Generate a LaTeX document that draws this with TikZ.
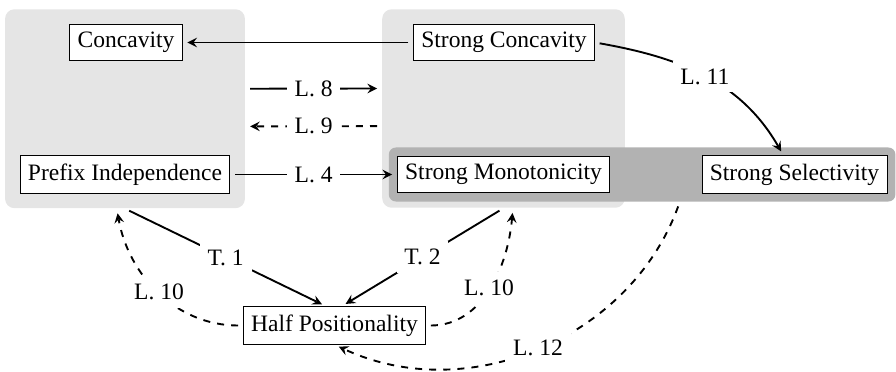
\documentclass[tikz,border=0pt]{standalone}
\usepackage{fontspec}
\setmainfont{Liberation Serif}
\usetikzlibrary{fit, backgrounds}

\begin{document}
\begin{tikzpicture}[x=0.425pt, y=-0.425pt, >=stealth,
  box/.style={draw, fill=white},
  grp/.style={fill=gray!20, rounded corners=4pt, inner sep=6.2pt},
  sgrp/.style={fill=gray!60, rounded corners=3pt, inner sep=3.4pt},
  arr/.style={thick, ->, shorten >=2pt, shorten <=2pt},
  lbl/.style={fill=white}]
  \useasboundingbox (0,0) rectangle (896,372);
  \node[box] (conc) at (126,42.5) {Concavity};
  \node[box] (sconc) at (504,42.5) {Strong Concavity};
  \node[box] (pref) at (125,174.5) {Prefix Independence};
  \node[box] (smon) at (503.5,174.5) {Strong Monotonicity};
  \node[box] (ssel) at (794.5,174.5) {Strong Selectivity};
  \node[box] (half) at (334.5,325.5) {Half Positionality};
  \begin{scope}[on background layer]
    \node[grp, fit=(conc)(pref)] (left) {};
    \node[grp, fit=(sconc)(smon)] (right) {};
    \node[sgrp, fit=(smon)(ssel)] (strong) {};
  \end{scope}
  \draw[arr] (sconc) -- (conc);
  \draw[arr] ([yshift=8.5pt]left.east) -- node[lbl] {L. 8} ([yshift=8.5pt]right.west);
  \draw[arr, dashed] ([yshift=-7.5pt]right.west) -- node[lbl] {L. 9} ([yshift=-7.5pt]left.east);
  \draw[arr] (pref) -- node[lbl] {L. 4} (smon);
  \draw[arr] (sconc.east) to[out=-10, in=120] node[lbl] {L. 11} (ssel);
  \draw[arr] (left.south) -- node[lbl] {T. 1} ([xshift=-3.5pt]half.north);
  \draw[arr] (right.south) -- node[lbl] {T. 2} ([xshift=3pt]half.north);
  \draw[arr, dashed] (half.west) to[out=180, in=-80] node[lbl] {L. 10} ([xshift=-3.5pt]left.south);
  \draw[arr, dashed] (half.east) to[out=0, in=-95] node[lbl] {L. 10} ([xshift=4pt]right.south);
  \draw[arr, dashed] ([xshift=16pt]strong.south) to[out=-110, in=-25] node[lbl] {L. 12} (half.south);
\end{tikzpicture}
\end{document}
